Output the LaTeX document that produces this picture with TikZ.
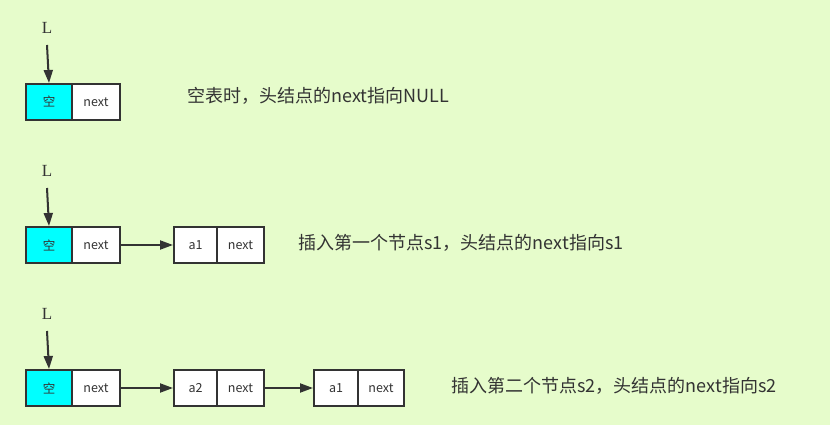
\documentclass[tikz,border=0pt]{standalone}
\usepackage{fontspec}
\setmainfont{Noto Sans CJK SC}
\newfontfamily\cjk{Noto Sans CJK SC}
\newfontfamily\lfont{Liberation Serif}
\usetikzlibrary{arrows.meta}
\definecolor{bg}{HTML}{E6FCCB}
\definecolor{ink}{HTML}{333333}
\definecolor{cy}{HTML}{00FFFF}
\tikzset{
  cell/.style={draw=ink, line width=2pt, minimum height=36pt, inner sep=0pt, font=\fontsize{12.5pt}{14pt}\selectfont\cjk, text=ink, anchor=north west},
  headcell/.style={cell, fill=cy, minimum width=46pt},
  nextcell/.style={cell, fill=white, minimum width=48pt},
  datacell/.style={cell, fill=white, minimum width=43pt},
  link/.style={draw=ink, line width=2pt, -{Triangle[length=13pt,width=9pt]}},
  lbl/.style={font=\fontsize{17pt}{20pt}\selectfont\lfont, text=ink},
  captext/.style={font=\fontsize{18pt}{20pt}\selectfont\cjk, text=ink, anchor=west},
}
\begin{document}
\begin{tikzpicture}[x=1pt,y=-1pt]
\fill[bg] (0,0) rectangle (830,425);
\useasboundingbox (0,0) rectangle (830,425);
% row 1
\node[lbl] (L1) at (47,28) {L};
\node[headcell] (h1) at (25,83) {空};
\node[nextcell] (n1) at (71,83) {next};
\coordinate (t1) at (47,45);
\draw[link] (t1) -- (h1.north);
\node[captext] (c1) at (184,96) {空表时，头结点的next指向NULL};
% row 2
\node[lbl] (L2) at (47,171) {L};
\node[headcell] (h2) at (25,226) {空};
\node[nextcell] (n2) at (71,226) {next};
\coordinate (t2) at (47,188);
\draw[link] (t2) -- (h2.north);
\node[datacell] (d21) at (173,226) {a1};
\node[nextcell, minimum width=47pt] (n21) at (216,226) {next};
\draw[link] (n2.east) -- (d21.west);
\node[captext] (c2) at (295,243) {插入第一个节点s1，头结点的next指向s1};
% row 3
\node[lbl] (L3) at (47,314) {L};
\node[headcell] (h3) at (25,369) {空};
\node[nextcell] (n3) at (71,369) {next};
\coordinate (t3) at (47,331);
\draw[link] (t3) -- (h3.north);
\node[datacell] (d31) at (173,369) {a2};
\node[nextcell, minimum width=47pt] (n31) at (216,369) {next};
\draw[link] (n3.east) -- (d31.west);
\node[datacell, minimum width=44pt] (d32) at (313,369) {a1};
\node[nextcell, minimum width=46pt] (n32) at (357,369) {next};
\draw[link] (n31.east) -- (d32.west);
\node[captext] (c3) at (448,386) {插入第二个节点s2，头结点的next指向s2};
\end{tikzpicture}
\end{document}
